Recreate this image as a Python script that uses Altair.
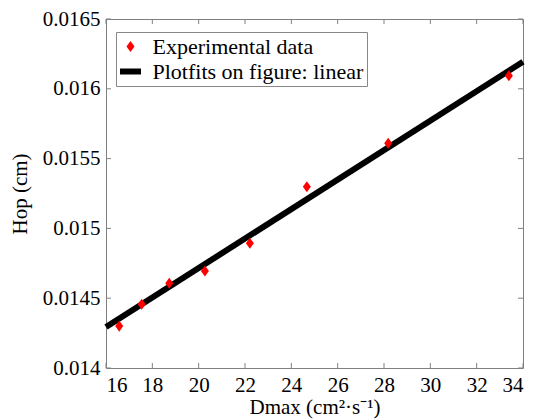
import altair as alt
import pandas as pd

dmax = [16.57, 17.54, 18.73, 20.27, 22.21, 24.67, 28.18, 33.39]
hop = [0.01430, 0.014456, 0.014607, 0.014695, 0.014893, 0.015299, 0.01561, 0.016094]

# Linear fit line endpoints
fit_x = [16.0, 34.0]
fit_y = [0.014294, 0.016194]

series_names = ["Experimental data", "Plotfits on figure: linear"]
x_ticks = [16, 18, 20, 22, 24, 26, 28, 30, 32, 34]
y_ticks = [0.014, 0.0145, 0.015, 0.0155, 0.016, 0.0165]

W, H = 417, 349
FONT = "Liberation Serif"
FRAME = "#808080"

pts = pd.DataFrame({"x": dmax, "y": hop, "series": series_names[0]})
fit = pd.DataFrame({"x": fit_x, "y": fit_y})
xt = pd.DataFrame({"t": x_ticks})
yt = pd.DataFrame({"t": y_ticks})

xscale = alt.Scale(domain=[16, 34], nice=False, zero=False)
yscale = alt.Scale(domain=[0.014, 0.0165], nice=False, zero=False)

diamond = "M-0.5,0L0,-0.69L0.5,0L0,0.69Z"
bar = "M-1.31,-0.375L1.31,-0.375L1.31,0.375L-1.31,0.375Z"

xaxis = alt.Axis(values=x_ticks, format="d", title="Dmax (cm²·s⁻¹)",
                 grid=False, domain=False, ticks=False, labelPadding=6,
                 titlePadding=1, labelFont=FONT, titleFont=FONT)
yaxis = alt.Axis(values=y_ticks, format="~g", title="Hop (cm)",
                 grid=False, domain=False, ticks=False, labelPadding=6,
                 titlePadding=12, labelFont=FONT, titleFont=FONT)

line = alt.Chart(fit).mark_line(color="black", strokeWidth=6).encode(
    x=alt.X("x:Q", scale=xscale, axis=xaxis),
    y=alt.Y("y:Q", scale=yscale, axis=yaxis),
)

points = alt.Chart(pts).mark_point(filled=True, size=256, opacity=1).encode(
    x=alt.X("x:Q", scale=xscale, axis=xaxis),
    y=alt.Y("y:Q", scale=yscale, axis=yaxis),
    color=alt.Color("series:N",
                    scale=alt.Scale(domain=series_names, range=["#ff0000", "#000000"]),
                    legend=alt.Legend(title=None, orient="none", legendX=10, legendY=13,
                                      padding=3.5, rowPadding=3, labelOffset=11,
                                      symbolSize=256, symbolStrokeWidth=0,
                                      labelLimit=0, labelFont=FONT, labelFontSize=22,
                                      symbolOpacity=1)),
    shape=alt.Shape("series:N",
                    scale=alt.Scale(domain=series_names, range=[diamond, bar])),
)

bt = alt.Chart(xt).mark_rule(color=FRAME, strokeWidth=1).encode(
    x=alt.X("t:Q", scale=xscale), y=alt.value(H), y2=alt.value(H - 5))
tt = alt.Chart(xt).mark_rule(color=FRAME, strokeWidth=1).encode(
    x=alt.X("t:Q", scale=xscale), y=alt.value(0), y2=alt.value(5))
lt = alt.Chart(yt).mark_rule(color=FRAME, strokeWidth=1).encode(
    y=alt.Y("t:Q", scale=yscale), x=alt.value(0), x2=alt.value(5))
rt = alt.Chart(yt).mark_rule(color=FRAME, strokeWidth=1).encode(
    y=alt.Y("t:Q", scale=yscale), x=alt.value(W), x2=alt.value(W - 5))

chart = alt.layer(line, points, bt, tt, lt, rt).properties(
    width=W, height=H,
    autosize=alt.AutoSizeParams(type="none"),
    padding={"left": 98, "top": 11, "right": 7, "bottom": 51},
    background="white",
).configure(
    font=FONT
).configure_view(
    stroke=FRAME, strokeWidth=1
).configure_axis(
    labelFont=FONT, labelFontSize=21, labelColor="black",
    titleFont=FONT, titleFontSize=21, titleColor="black", titleFontWeight="normal",
).configure_legend(
    labelFont=FONT, labelFontSize=22, labelColor="black",
    strokeColor="#888888", fillColor="white", cornerRadius=0,
)

chart.save("out.html", embed_options={"renderer": "svg", "actions": False})
